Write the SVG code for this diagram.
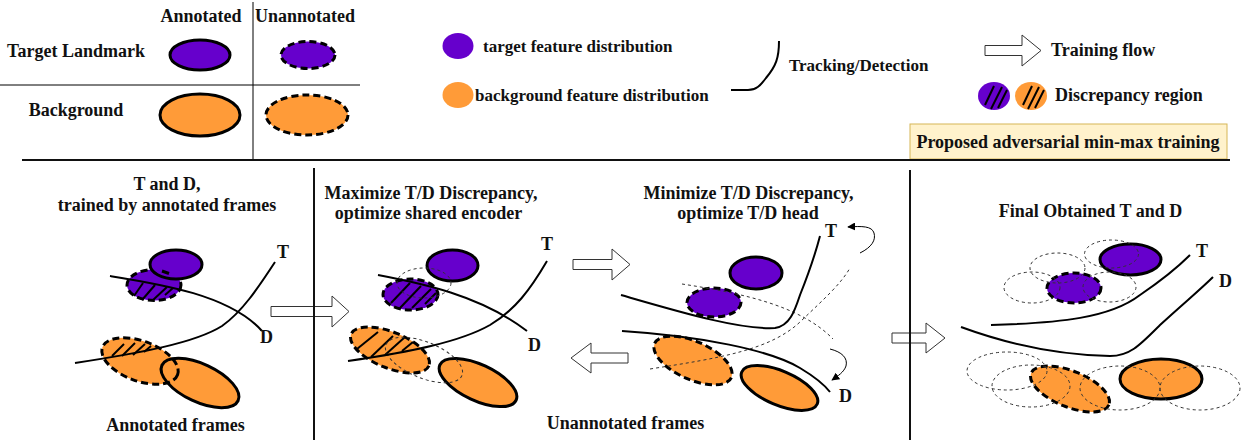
<svg xmlns="http://www.w3.org/2000/svg" width="1245" height="445" viewBox="0 0 1245 445">
<style>
text{font-family:"Liberation Serif","Times New Roman",serif;font-weight:bold;font-size:18px;fill:#111}
.m{text-anchor:middle}
.s17{font-size:17px}
.pu{fill:#6600CC}
.or{fill:#FF9B38}
.sol{stroke:#000;stroke-width:3}
.dsh{stroke:#000;stroke-width:3;stroke-dasharray:7 4}
.dsn{fill:none;stroke:#000;stroke-width:3;stroke-dasharray:7 4}
.gh{fill:none;stroke:#333;stroke-width:1;stroke-dasharray:3 3}
.cv{fill:none;stroke:#000;stroke-width:2}
.ht{stroke:#000;stroke-width:2}
.ar{fill:#fff;stroke:#333;stroke-width:1}
.sep{stroke:#111;stroke-width:2}
.thin{stroke:#000;stroke-width:1}
</style>
<defs>
<marker id="ah" viewBox="0 0 10 10" refX="9" refY="5" markerWidth="8" markerHeight="8" orient="auto" markerUnits="userSpaceOnUse">
<path d="M0,0 L10,5 L0,10 Z" fill="#000"/>
</marker>
</defs>
<rect width="1245" height="445" fill="#fff"/>

<g id="legend-table">
<line class="thin" x1="253" y1="2" x2="253" y2="160"/>
<line class="thin" x1="0" y1="85" x2="360" y2="85"/>
<text class="m" x="201" y="22">Annotated</text>
<text class="m" x="305" y="22">Unannotated</text>
<text class="m" x="76" y="57">Target Landmark</text>
<text class="m" x="76" y="116">Background</text>
<ellipse class="pu sol" cx="200" cy="55" rx="30" ry="15"/>
<ellipse class="pu dsh" cx="308" cy="55" rx="27" ry="13.5"/>
<ellipse class="or sol" cx="200" cy="115" rx="40" ry="21"/>
<ellipse class="or dsh" cx="307" cy="115" rx="41" ry="20"/>
</g>

<g id="legend-distributions">
<ellipse class="pu" cx="458" cy="46" rx="15.5" ry="13"/>
<text class="s17" x="483" y="52">target feature distribution</text>
<ellipse class="or" cx="458" cy="95" rx="15.5" ry="13"/>
<text class="s17" x="475" y="101">background feature distribution</text>
<path class="cv" d="M731,90 L748,90 C756,90 760,86 766,78 C776,66 779,58 779,41"/>
<text class="s17" x="789" y="71">Tracking/Detection</text>
</g>

<g id="legend-flow">
<path class="ar" d="M985,45.5 H1022 V35 L1041,50.5 L1022,66 V55.5 H985 Z"/>
<text x="1051" y="56">Training flow</text>
<ellipse class="pu" cx="994" cy="96" rx="16" ry="14"/>
<line class="ht" x1="985" y1="105" x2="994" y2="86"/>
<line class="ht" x1="991" y1="109" x2="1002" y2="87"/>
<line class="ht" x1="998" y1="108" x2="1007" y2="90"/>
<ellipse class="or" cx="1031" cy="96" rx="16" ry="14"/>
<line class="ht" x1="1023" y1="105" x2="1032" y2="86"/>
<line class="ht" x1="1028" y1="109" x2="1039" y2="87"/>
<line class="ht" x1="1035" y1="108" x2="1044" y2="90"/>
<text x="1055" y="101">Discrepancy region</text>
</g>

<g id="legend-proposed">
<rect x="910" y="124" width="317" height="35" fill="#FFF2CC" stroke="#D6B656" stroke-width="1"/>
<text class="m" x="1068" y="148">Proposed adversarial min-max training</text>
</g>

<g id="connectors">
<path class="ar" d="M271,306.5 H332 V296 L349,311.5 L332,327 V316.5 H271 Z"/>
<path class="ar" d="M573,259.5 H612 V249 L630,264.5 L612,280 V269.5 H573 Z"/>
<path class="ar" d="M628,353 H591 V343 L571,358 L591,373 V363 H628 Z"/>
<path class="ar" d="M892,333 H926 V323 L945,338 L926,353 V343 H892 Z"/>
<path fill="none" stroke="#000" stroke-width="1" marker-end="url(#ah)" d="M860,253 C872,247 876,240 874,233 C872,226 862,226 848,227"/>
<path fill="none" stroke="#000" stroke-width="1" marker-end="url(#ah)" d="M830,349 C842,352 848,358 846,366 C844,372 838,376 832,380"/>
</g>

<g id="separators">
<line class="sep" x1="22" y1="160" x2="1230" y2="160"/>
<line class="sep" x1="314" y1="168" x2="314" y2="440"/>
<line class="sep" x1="910" y1="170" x2="910" y2="440"/>
</g>

<g id="panel1">
<text class="m" x="167" y="190">T and D,</text>
<text class="m" x="167" y="211">trained by annotated frames</text>
<ellipse class="pu dsh" cx="154" cy="285" rx="27" ry="15.5"/>
<ellipse class="pu sol" cx="176" cy="264.5" rx="26" ry="14.5"/>
<line x1="162" y1="271" x2="169" y2="273.5" stroke="#000" stroke-width="3"/>
<line class="ht" x1="134" y1="296" x2="143" y2="283"/>
<line class="ht" x1="142" y1="300" x2="155" y2="285"/>
<line class="ht" x1="153" y1="300" x2="167" y2="287"/>
<line class="ht" x1="165" y1="295" x2="173" y2="288"/>
<ellipse class="or" cx="140" cy="361" rx="40" ry="20" transform="rotate(20 140 361)"/>
<ellipse class="or sol" cx="200" cy="383" rx="42" ry="19" transform="rotate(25 200 383)"/>
<ellipse class="dsn" cx="140" cy="361" rx="40" ry="20" transform="rotate(20 140 361)"/>
<line class="ht" x1="112" y1="356" x2="124" y2="344"/>
<line class="ht" x1="122" y1="356" x2="135" y2="343"/>
<line class="ht" x1="133" y1="355" x2="145" y2="344"/>
<line class="ht" x1="144" y1="352" x2="151" y2="346"/>
<path class="cv" d="M110,276 C160,284 230,295 262,331"/>
<path class="cv" d="M275,262 C258,288 242,312 222,326 C195,343 140,353 75,363"/>
<text x="277" y="258">T</text>
<text x="260" y="343">D</text>
<text class="m" x="175.5" y="431">Annotated frames</text>
</g>

<g id="panel2">
<text class="m" x="431" y="199">Maximize T/D Discrepancy,</text>
<text class="m" x="428.5" y="219">optimize shared encoder</text>
<ellipse class="pu sol" cx="452.5" cy="265.5" rx="25.5" ry="15.5"/>
<ellipse class="pu dsh" cx="410.5" cy="294.5" rx="27.5" ry="15.5"/>
<line class="ht" x1="391" y1="303" x2="410" y2="283"/>
<line class="ht" x1="400" y1="308" x2="421" y2="286"/>
<line class="ht" x1="412" y1="308" x2="431" y2="289"/>
<line class="ht" x1="425" y1="304" x2="436" y2="293"/>
<ellipse class="gh" cx="424" cy="283" rx="27" ry="15"/>
<ellipse class="or dsh" cx="390" cy="350" rx="42" ry="18" transform="rotate(22 390 350)"/>
<line class="ht" x1="357" y1="349" x2="378" y2="332"/>
<line class="ht" x1="371" y1="357" x2="393" y2="336"/>
<line class="ht" x1="385" y1="355" x2="405" y2="337"/>
<line class="ht" x1="402" y1="351" x2="413" y2="342"/>
<ellipse class="or sol" cx="478" cy="382.5" rx="42" ry="18" transform="rotate(25 478 382.5)"/>
<ellipse class="gh" cx="424" cy="360" rx="41" ry="18" transform="rotate(22 424 360)"/>
<path class="cv" d="M378,275 C420,283 480,295 527,331"/>
<path class="cv" d="M547,261 C530,290 515,310 490,325 C460,342 410,352 348,361"/>
<text x="541" y="250">T</text>
<text x="528" y="351">D</text>
</g>

<g id="panel3">
<text class="m" x="748.5" y="199">Minimize T/D Discrepancy,</text>
<text class="m" x="748" y="219">optimize T/D head</text>
<ellipse class="pu sol" cx="756" cy="273" rx="26" ry="16"/>
<ellipse class="pu dsh" cx="714" cy="302.5" rx="27" ry="14.5"/>
<ellipse class="or dsh" cx="693" cy="360.5" rx="42" ry="19" transform="rotate(24 693 360.5)"/>
<ellipse class="or sol" cx="779.5" cy="388" rx="41" ry="17" transform="rotate(23 779.5 388)"/>
<path class="gh" d="M682,284 C740,293 800,305 833,339"/>
<path class="gh" d="M650,369 C720,358 770,350 800,322 C825,298 840,285 850,268"/>
<path class="cv" d="M621,295 C680,312 740,330 775,328 C790,326 795,310 800,295 C808,275 815,255 820,236"/>
<path class="cv" d="M622,331 C700,336 770,350 800,368 C815,377 823,383 830,392"/>
<text x="825" y="237">T</text>
<text x="839" y="402">D</text>
<text class="m" x="625.5" y="429">Unannotated frames</text>
</g>

<g id="panel4">
<text class="m" x="1090.5" y="217">Final Obtained T and D</text>
<ellipse class="pu sol" cx="1130.5" cy="259.5" rx="30.5" ry="15.5"/>
<ellipse class="pu dsh" cx="1074" cy="288" rx="27" ry="15"/>
<ellipse class="gh" cx="1111.5" cy="254" rx="27" ry="14"/>
<ellipse class="gh" cx="1057.5" cy="268" rx="27.5" ry="15"/>
<ellipse class="gh" cx="1032" cy="287.5" rx="28" ry="15.5"/>
<ellipse class="gh" cx="1109.5" cy="287" rx="26.5" ry="15"/>
<ellipse class="or dsh" cx="1070" cy="389" rx="42" ry="18" transform="rotate(22 1070 389)"/>
<ellipse class="or sol" cx="1161" cy="379" rx="41" ry="20"/>
<ellipse class="gh" cx="1007" cy="371" rx="40" ry="19"/>
<ellipse class="gh" cx="1031" cy="386" rx="39" ry="21"/>
<ellipse class="gh" cx="1120" cy="388" rx="40" ry="22"/>
<ellipse class="gh" cx="1200" cy="388" rx="40" ry="22"/>
<path class="cv" d="M991,325 C1060,323 1110,318 1140,295 C1165,278 1180,265 1190,255"/>
<path class="cv" d="M961,327 C1010,345 1060,355 1110,356 C1130,356 1140,345 1160,325 C1185,302 1200,290 1213,277"/>
<text x="1196" y="257">T</text>
<text x="1219" y="287">D</text>
</g>
</svg>
